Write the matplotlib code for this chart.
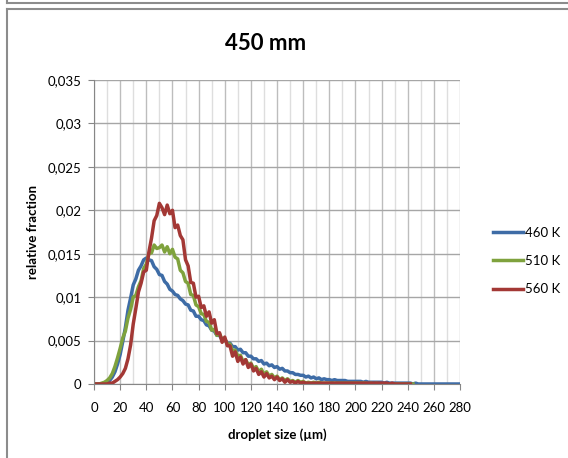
import numpy as np
import matplotlib
matplotlib.use("Agg")
import matplotlib.pyplot as plt
from matplotlib.lines import Line2D

# droplet size (um), one value every 2 um
size = np.arange(0, 282, 2)

# relative fraction, in units of 1e-4
k460 = [0, 0, 0, 0, 1, 2, 4, 8, 14, 23,
        34, 49, 65, 85, 99, 114, 121, 131, 136, 143,
        145, 143, 142, 135, 132, 126, 125, 118, 115, 109,
        107, 103, 102, 98, 96, 92, 91, 85, 84, 78,
        78, 74, 73, 68, 67, 62, 61, 56, 56, 51,
        51, 47, 47, 43, 43, 39, 40, 36, 36, 32,
        32, 29, 29, 26, 27, 23, 24, 21, 22, 19,
        20, 17, 18, 15, 15, 13, 13, 11, 11, 10,
        10, 8, 9, 7, 8, 6, 7, 5, 6, 5,
        5, 4, 5, 4, 4, 4, 4, 3, 3, 3,
        3, 3, 3, 2, 3, 2, 2, 2, 2, 2,
        2, 1, 2, 1, 1, 1, 1, 1, 1, 1,
        1, 1, 0, 1, 0, 0, 0, 0, 0, 0,
        0, 0, 0, 0, 0, 0, 0, 0, 0, 0,
        0]
k510 = [0, 0, 0, 1, 2, 4, 7, 12, 20, 30,
        41, 53, 61, 76, 86, 100, 102, 112, 119, 133,
        138, 150, 151, 160, 156, 157, 160, 152, 158, 150,
        155, 146, 144, 131, 128, 118, 116, 103, 102, 91,
        89, 81, 80, 72, 71, 62, 63, 56, 58, 51,
        52, 46, 46, 38, 39, 32, 33, 26, 28, 22,
        24, 18, 20, 14, 17, 11, 14, 9, 11, 7,
        9, 5, 7, 4, 6, 3, 4, 2, 4, 2,
        3, 1, 2, 1, 2, 1, 2, 1, 1, 1,
        1, 1, 1, 1, 1, 1, 1, 1, 1, 1,
        1, 1, 1, 1, 1, 0, 1, 0, 1, 0,
        0, 0, 0, 0, 0, 0, 0, 0, 0, 0,
        0, 0, 0]
k560 = [0, 0, 0, 0, 0, 0, 1, 1, 3, 5,
        8, 12, 18, 29, 45, 69, 87, 106, 116, 129,
        131, 152, 168, 188, 194, 208, 203, 195, 206, 196,
        200, 180, 183, 171, 166, 143, 136, 117, 116, 100,
        101, 88, 90, 78, 83, 70, 74, 58, 59, 48,
        54, 44, 44, 32, 37, 26, 31, 23, 28, 19,
        23, 15, 18, 11, 14, 8, 12, 7, 9, 5,
        8, 4, 6, 2, 5, 2, 3, 1, 3, 1,
        2, 1, 1, 1, 1, 1, 1, 1, 1, 1,
        1, 1, 1, 1, 1, 1, 1, 1, 1, 1,
        1, 1, 1, 1, 1, 1, 1, 1, 1, 1,
        1, 1, 1, 0, 1, 0, 0, 0, 0, 0,
        0, 0]

series = [("460 K", k460, "#3E6CA6"),
          ("510 K", k510, "#7FA23D"),
          ("560 K", k560, "#A33835")]

yticks = [0, 0.005, 0.01, 0.015, 0.02, 0.025, 0.03, 0.035]
ylabels = ["0", "0,005", "0,01", "0,015", "0,02", "0,025", "0,03", "0,035"]
xticks = list(range(0, 281, 20))

plt.rcParams["font.family"] = ["Lato", "DejaVu Sans"]

fig = plt.figure(figsize=(5.68, 4.58), dpi=100)
ax = fig.add_axes([0.1655, 0.1616, 0.6445, 0.6637])

for name, vals, col in series:
    y = np.array(vals) * 1e-4
    ax.plot(size[:len(y)], y, color=col, lw=2.5, label=name)

ax.set_xlim(0, 280)
ax.set_ylim(0, 0.035)
ax.set_xticks(xticks)
ax.set_xticks(range(10, 280, 20), minor=True)
ax.set_yticks(yticks)
ax.set_yticklabels(ylabels)
ax.tick_params(axis="both", which="major", labelsize=9.5, length=4, color="#868686")
ax.tick_params(axis="x", which="major", pad=9)
ax.tick_params(axis="y", which="major", pad=5)
ax.tick_params(axis="x", which="minor", length=0)

ax.grid(True, axis="y", color="#A6A6A6", lw=1)
ax.grid(True, axis="x", which="major", color="#BDBDBD", lw=1)
ax.grid(True, axis="x", which="minor", color="#DEDEDE", lw=1)
ax.set_axisbelow(True)
for s in ["top", "right"]:
    ax.spines[s].set_visible(False)
for s in ["left", "bottom"]:
    ax.spines[s].set_color("#868686")

ax.set_xlabel("droplet size (µm)", fontsize=9.5, fontweight="bold", labelpad=10)
ax.set_ylabel("relative fraction", fontsize=9.5, fontweight="bold", labelpad=6)
fig.text(0.467, 0.905, "450 mm", ha="center", va="center", fontsize=16, fontweight="bold")

fig.legend(loc="center left", bbox_to_anchor=(493 / 568, 1 - 261 / 458), frameon=False,
           fontsize=9.5, handlelength=2.3, handletextpad=0.1, labelspacing=1.25,
           borderpad=0, borderaxespad=0)

# border of the chart area
grey = "#8C8C8C"
fig.add_artist(Line2D([7 / 568, 7 / 568], [0, 1 - 9 / 458], transform=fig.transFigure, color=grey, lw=1.5))
fig.add_artist(Line2D([7 / 568, 1], [1 - 9 / 458, 1 - 9 / 458], transform=fig.transFigure, color=grey, lw=1.5))
fig.add_artist(Line2D([7 / 568, 1], [1 - 3 / 458, 1 - 3 / 458], transform=fig.transFigure, color=grey, lw=1.5))
fig.add_artist(Line2D([7 / 568, 7 / 568], [1 - 3 / 458, 1], transform=fig.transFigure, color=grey, lw=1.5))

fig.savefig("out.png", dpi=100)
